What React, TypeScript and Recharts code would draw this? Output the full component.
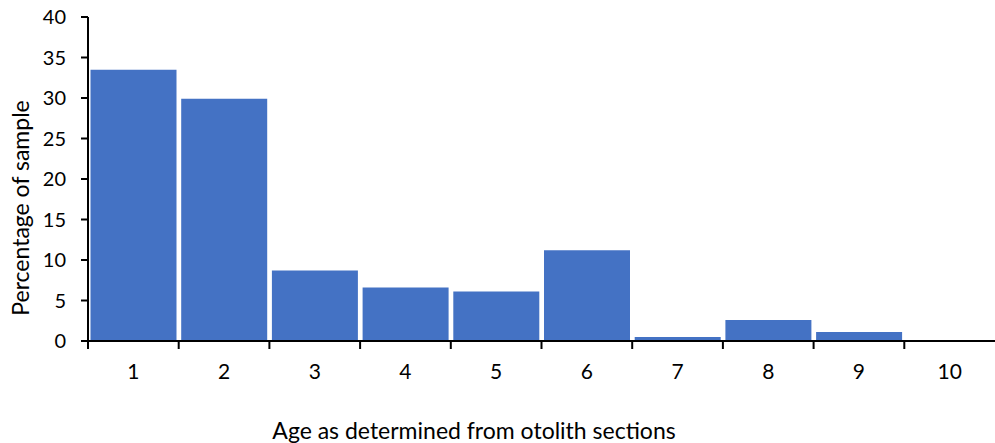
import { BarChart, Bar, XAxis, YAxis, Label } from "recharts"

const ages = ["1", "2", "3", "4", "5", "6", "7", "8", "9", "10"]
const percentages = [33.5, 29.9, 8.7, 6.6, 6.1, 11.2, 0.5, 2.6, 1.1, 0]
const yTicks = [0, 5, 10, 15, 20, 25, 30, 35, 40]

const data = ages.map((age, i) => ({ age, pct: percentages[i] }))

const W = 995
const H = 443
const LEFT = 88
const band = (W - LEFT) / ages.length
const font = "Lato, 'Open Sans', sans-serif"

const AgeTick = (props: any) => {
  const { x, y, payload } = props
  return (
    <g>
      <line x1={x - band / 2} x2={x - band / 2} y1={y} y2={y + 8} stroke="#000" strokeWidth={2} />
      <text x={x} y={y + 38} textAnchor="middle" fontSize={21} fontFamily={font} fill="#000">
        {payload.value}
      </text>
    </g>
  )
}

export default function App() {
  return (
    <div style={{ position: "absolute", left: 0, top: 0, background: "#fff" }}>
      <BarChart
        width={W}
        height={H}
        data={data}
        margin={{ top: 17, right: 0, left: 0, bottom: 0 }}
        barCategoryGap={2.5}
      >
        <XAxis
          dataKey="age"
          height={102}
          tickLine={false}
          tickSize={0}
          tickMargin={0}
          tick={<AgeTick />}
          axisLine={{ stroke: "#000", strokeWidth: 2 }}
          interval={0}
        >
          <Label
            content={() => (
              <text x={474} y={439} textAnchor="middle" fontSize={23} fontFamily={font} fill="#000">
                Age as determined from otolith sections
              </text>
            )}
          />
        </XAxis>
        <YAxis
          width={LEFT}
          domain={[0, 40]}
          ticks={yTicks}
          interval={0}
          tickSize={7}
          tickMargin={15}
          tick={{ fontSize: 20, fontFamily: font, fill: "#000" }}
          tickLine={{ stroke: "#000", strokeWidth: 2 }}
          axisLine={{ stroke: "#000", strokeWidth: 2 }}
        >
          <Label
            content={() => (
              <text
                x={0}
                y={0}
                transform="translate(29,208) rotate(-90)"
                textAnchor="middle"
                fontSize={23}
                fontFamily={font}
                fill="#000"
              >
                Percentage of sample
              </text>
            )}
          />
        </YAxis>
        <Bar dataKey="pct" fill="#4472C4" isAnimationActive={false} />
      </BarChart>
    </div>
  )
}
